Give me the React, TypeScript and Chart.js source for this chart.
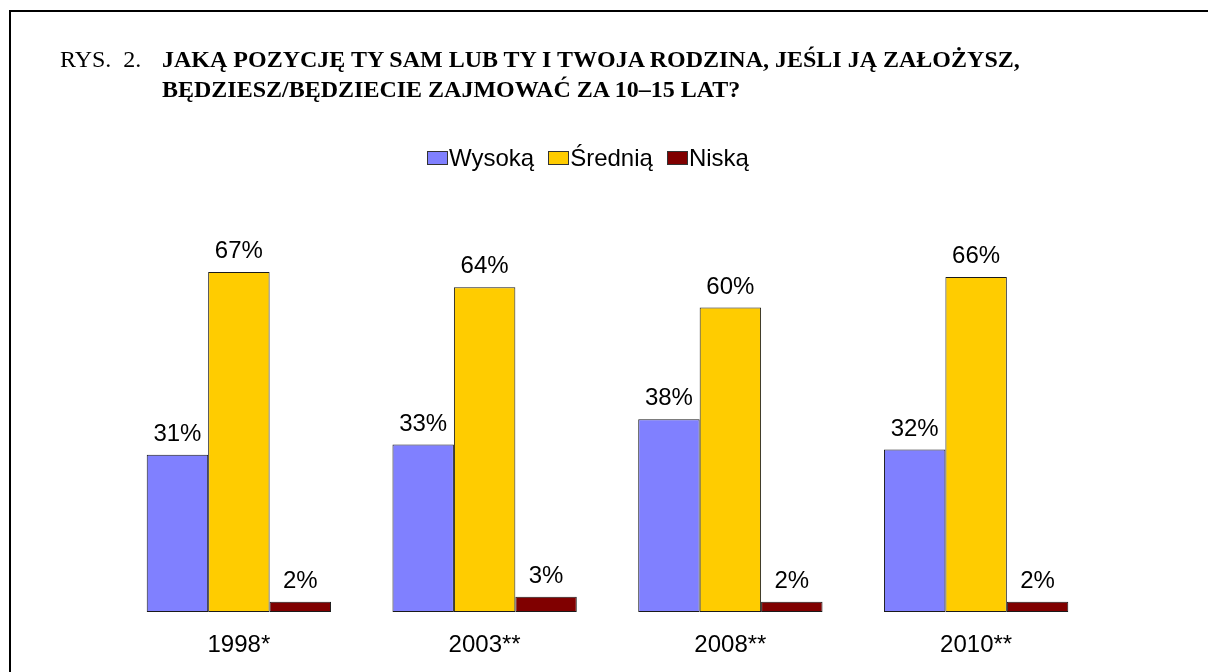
import React, { useEffect, useRef } from "react";
import { Chart, registerables } from "chart.js";

Chart.register(...registerables);

const categories = ["1998*", "2003**", "2008**", "2010**"];
const seriesNames = ["Wysoką", "Średnią", "Niską"];
const wysoka = [31, 33, 38, 32];
const srednia = [67, 64, 60, 66];
const niska = [2, 3, 2, 2];
const colors = ["#8080FF", "#FFCC00", "#800000"];

const FONT = "'Liberation Sans', Arial, sans-serif";

const labelPlugin = {
  id: "labels",
  afterDatasetsDraw(chart: any) {
    const ctx = chart.ctx;
    ctx.save();
    ctx.font = `24px ${FONT}`;
    ctx.fillStyle = "#000";
    ctx.textAlign = "center";
    ctx.textBaseline = "alphabetic";
    chart.data.datasets.forEach((ds: any, di: number) => {
      const meta = chart.getDatasetMeta(di);
      meta.data.forEach((bar: any, i: number) => {
        ctx.fillText(ds.data[i] + "%", bar.x, bar.y - 14);
      });
    });
    const xs = chart.scales.x;
    categories.forEach((c, i) => {
      ctx.fillText(c, xs.getPixelForValue(i), 652);
    });
    ctx.restore();
  },
};

export default function App() {
  const ref = useRef<HTMLCanvasElement>(null);
  useEffect(() => {
    const chart = new Chart(ref.current!, {
      type: "bar",
      data: {
        labels: categories,
        datasets: [wysoka, srednia, niska].map((d, i) => ({
          label: seriesNames[i],
          data: d,
          backgroundColor: colors[i],
          borderColor: "#1a1a1a",
          borderWidth: 1,
          borderSkipped: false,
          categoryPercentage: 0.75,
          barPercentage: 1,
        })),
      },
      options: {
        responsive: false,
        animation: false,
        layout: { padding: { left: 116, right: 109, top: 206, bottom: 60 } },
        plugins: { legend: { display: false }, tooltip: { enabled: false }, title: { display: false } },
        scales: {
          x: { display: false },
          y: { display: false, min: 0, max: 80 },
        },
      },
      plugins: [labelPlugin],
    });
    return () => chart.destroy();
  }, []);

  const serif = "'Liberation Serif', 'Times New Roman', serif";
  return (
    <div style={{ position: "fixed", left: 0, top: 0, width: 1208, height: 672, background: "#fff", overflow: "hidden" }}>
      <div style={{ position: "absolute", left: 9, top: 10, width: 1400, height: 800, borderTop: "2px solid #000", borderLeft: "2px solid #000" }} />
      <canvas ref={ref} width={1208} height={672} style={{ position: "absolute", left: 0, top: 0 }} />
      <div style={{ position: "absolute", left: 60, top: 44, fontFamily: serif, fontSize: 24, lineHeight: "30px", color: "#000", whiteSpace: "nowrap" }}>
        RYS.&nbsp; 2.
      </div>
      <div style={{ position: "absolute", left: 162, top: 44, fontFamily: serif, fontSize: 24, lineHeight: "30px", fontWeight: "bold", color: "#000", whiteSpace: "nowrap" }}>
        <div>JAKĄ POZYCJĘ TY SAM LUB TY I TWOJA RODZINA, JEŚLI JĄ ZAŁOŻYSZ,</div>
        <div>BĘDZIESZ/BĘDZIECIE ZAJMOWAĆ ZA 10–15 LAT?</div>
      </div>
      <div style={{ position: "absolute", left: 427, top: 146, height: 24, display: "flex", alignItems: "center", fontFamily: FONT, fontSize: 24, lineHeight: "24px", color: "#000", whiteSpace: "nowrap" }}>
        {seriesNames.map((n, i) => (
          <div key={n} style={{ display: "flex", alignItems: "center", marginRight: 14 }}>
            <span style={{ display: "inline-block", width: 19, height: 12, background: colors[i], border: "1px solid #333", marginRight: 1 }} />
            <span>{n}</span>
          </div>
        ))}
      </div>
    </div>
  );
}
